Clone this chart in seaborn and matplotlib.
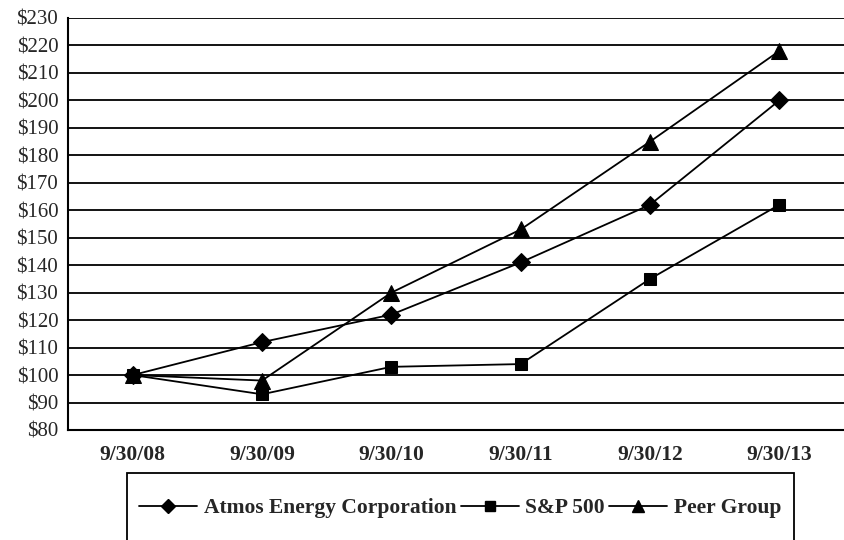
import matplotlib
matplotlib.use("Agg")
import matplotlib.pyplot as plt
import pandas as pd
import seaborn as sns
from matplotlib.patches import Rectangle

# data
dates = ["9/30/08", "9/30/09", "9/30/10", "9/30/11", "9/30/12", "9/30/13"]
atmos = [100, 112, 122, 141, 162, 200]
sp500 = [100, 93, 103, 104, 135, 162]
peer = [100, 98, 130, 153, 185, 218]
series_names = ["Atmos Energy Corporation", "S&P 500", "Peer Group"]
markers = ["D", "s", "^"]
marker_sizes = [9, 9, 11]

sns.set_style("white")
plt.rcParams["font.family"] = ["Liberation Serif", "DejaVu Serif"]

fig = plt.figure(figsize=(8.44, 5.40), dpi=100)
ax = fig.add_axes([68 / 844, 1 - 430 / 540, 776 / 844, 412 / 540])

# draw peer first, then atmos, S&P on top (square covers the 100 start point)
for idx in [2, 0, 1]:
    vals = [atmos, sp500, peer][idx]
    d = pd.DataFrame({"pos": range(len(dates)), "value": vals})
    sns.lineplot(data=d, x="pos", y="value", color="black", marker=markers[idx],
                 markersize=marker_sizes[idx], markeredgecolor="black",
                 linewidth=1.3, ax=ax)

ax.set_xlim(-0.5, 5.5)
ax.set_ylim(80, 230)
ax.set_yticks(range(80, 231, 10))
ax.set_yticklabels(["$%d" % v for v in range(80, 231, 10)], fontsize=15)
ax.set_xticks(range(len(dates)))
ax.set_xticklabels(dates, fontsize=15.5, fontweight="bold")
ax.set_xticks([i + 0.5 for i in range(-1, len(dates))], minor=True)
ax.tick_params(axis="x", which="major", length=0, pad=11)
ax.tick_params(axis="x", which="minor", length=5, width=1.2, color="black", direction="out")
ax.tick_params(axis="y", length=5, width=1.2, color="black", direction="out", pad=2)
ax.set_xlabel("")
ax.set_ylabel("")

ax.grid(axis="y", color="black", linewidth=1.3)
ax.set_axisbelow(True)
for s in ["top", "right"]:
    ax.spines[s].set_visible(False)
for s in ["left", "bottom"]:
    ax.spines[s].set_color("black")
    ax.spines[s].set_linewidth(1.5)

# legend box, cut off at the bottom like the original
fig.patches.append(Rectangle((127 / 844, -0.05), (794 - 127) / 844, 0.05 + (540 - 473) / 540,
                             transform=fig.transFigure, fill=False,
                             edgecolor="black", linewidth=1.3))
handles = [plt.Line2D([], [], color="black", marker=m, markersize=ms, linewidth=1.3)
           for m, ms in zip(markers, [7, 7, 9])]
fig.legend(handles, series_names, loc="center", bbox_to_anchor=(460 / 844, 1 - 508 / 540),
           ncol=3, frameon=False, prop={"weight": "bold", "size": 15.5},
           handlelength=2.7, handletextpad=0.3, columnspacing=0.2)

fig.savefig("out.png", dpi=100)
